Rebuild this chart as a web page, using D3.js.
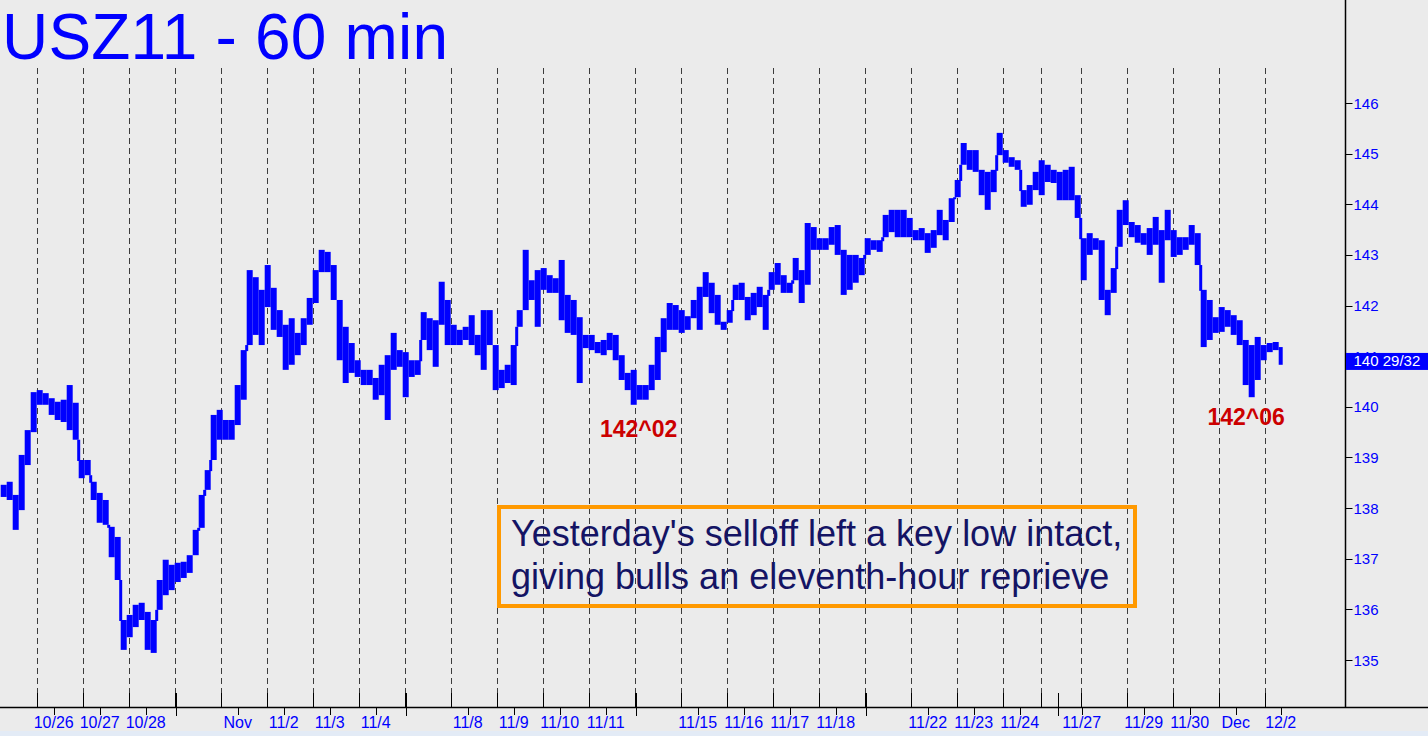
<!DOCTYPE html>
<html><head><meta charset="utf-8">
<script src="https://cdn.jsdelivr.net/npm/d3@7"></script>
<style>html,body{margin:0;padding:0;background:#ebebeb;overflow:hidden}svg{display:block}</style>
</head><body><svg id="c" width="1428" height="736"></svg>
<script>
const title = "USZ11 - 60 min";
// hourly bars grouped in threes: high and low of each group
const highs = [
138.46,138.52,138.26,139.05,139.54,140.29,140.33,140.27,140.17,140.10,
140.14,140.43,140.08,138.95,138.95,138.52,138.30,138.16,137.63,137.43,
135.79,135.89,136.09,136.13,135.95,135.79,136.58,136.98,136.88,136.92,
136.94,137.07,137.57,138.26,138.75,139.84,139.94,139.74,139.74,140.43,
141.12,142.70,142.56,142.31,142.80,142.35,141.91,141.62,141.75,141.46,
141.75,142.15,142.70,143.10,143.06,142.80,142.11,141.58,141.26,140.92,
140.73,140.73,140.57,140.83,141.02,141.46,141.12,141.08,140.92,140.92,
141.87,141.75,141.71,142.47,142.11,141.62,141.52,141.58,141.81,141.42,
141.91,141.91,141.22,140.73,140.83,141.22,141.91,143.10,142.50,142.70,
142.74,142.60,142.54,142.90,142.21,142.11,141.77,141.42,141.42,141.28,
141.32,141.46,141.42,141.02,140.67,140.73,140.43,140.43,140.83,141.38,
141.75,142.05,142.01,141.91,141.79,142.11,142.37,142.66,142.45,142.21,
141.68,141.91,142.41,142.45,142.17,142.25,142.37,142.21,142.66,142.84,
142.60,142.45,142.94,142.70,143.63,143.55,143.33,143.33,143.55,143.59,
143.10,143.00,143.00,142.94,143.33,143.29,143.29,143.79,143.89,143.89,
143.89,143.73,143.49,143.53,143.43,143.49,143.89,143.69,144.12,144.48,
145.21,145.07,145.07,144.68,144.64,144.68,145.41,145.07,144.93,144.87,
144.28,144.38,144.64,144.87,144.78,144.68,144.64,144.68,144.74,144.18,
143.33,143.43,143.33,143.29,142.31,142.74,143.89,144.08,143.65,143.59,
143.43,143.53,143.75,143.49,143.89,143.49,143.35,143.35,143.59,143.43,
142.31,142.11,141.77,141.97,141.91,141.81,141.71,141.32,141.22,141.38,
141.22,141.26,141.28,141.18];
const lows = [
138.22,138.16,137.57,137.96,138.85,139.50,140.04,140.04,139.84,139.74,
139.70,139.54,139.35,138.59,138.65,138.16,137.71,137.67,137.03,136.58,
135.20,135.45,135.65,135.79,135.20,135.14,135.99,136.28,136.38,136.54,
136.62,136.72,137.07,137.61,138.36,138.95,139.35,139.35,139.35,139.64,
140.14,141.22,141.42,141.22,141.97,141.52,141.38,140.73,140.83,141.02,
141.22,141.62,142.05,142.66,142.66,142.11,140.92,140.47,140.67,140.59,
140.43,140.43,140.14,140.23,139.74,140.73,140.79,140.19,140.59,140.63,
141.32,141.12,140.79,141.62,141.22,141.22,141.22,141.32,141.22,141.02,
140.73,141.22,140.33,140.37,140.47,140.43,141.58,141.91,142.11,141.58,
142.31,142.25,142.25,141.71,141.46,141.42,140.47,141.16,141.12,141.06,
141.02,141.12,140.92,140.53,140.33,140.04,140.14,140.14,140.33,140.53,
141.08,141.52,141.52,141.46,141.52,141.75,141.52,142.17,141.85,141.62,
141.52,141.66,142.11,142.11,141.71,141.81,141.97,141.52,142.31,142.41,
142.25,142.25,142.50,142.05,142.41,143.10,143.10,143.10,143.20,143.00,
142.21,142.31,142.45,142.60,143.00,143.10,143.06,143.35,143.45,143.35,
143.35,143.35,143.29,143.29,143.04,143.14,143.39,143.29,143.65,144.14,
144.78,144.68,144.64,144.18,143.89,144.24,144.97,144.82,144.74,144.68,
143.95,143.99,144.28,144.18,144.44,144.42,144.08,144.08,144.08,143.73,
142.50,143.00,143.10,142.11,141.81,142.25,143.16,143.59,143.35,143.24,
143.20,143.00,143.20,142.45,143.29,142.96,143.00,143.10,143.20,142.80,
141.18,141.32,141.46,141.48,141.58,141.42,141.22,140.43,140.19,140.53,
140.92,141.08,141.12,140.83];
const barsPerGroup = 3;
const lastGroupBars = 2;
const sessionStartBars = [18,41,64,87,110,133,156,179,202,225,248,271,294,317,340,363,386,409,432,455,478,501,520,540,563,586,609,632];
const dateLabels = ["10/26","10/27","10/28","Nov","11/2","11/3","11/4","11/8","11/9","11/10","11/11","11/15","11/16","11/17","11/18","11/22","11/23","11/24","11/27","11/29","11/30","Dec","12/2"];
const dateLabelBars = [26.5,49.5,72.5,118.5,141.5,164.5,187.5,233.5,256.5,279.5,302.5,348.5,371.5,394.5,417.5,463.5,486.5,509.5,540.5,571.5,594.5,617.5,640];
const weekBreakBars = [87.5,202.5,317.5,432.5,528.5];
const priceTicks = [135,136,137,138,139,140,141,142,143,144,145,146];
const lastPriceText = "140 29/32";
const lastPrice = 140.906;
const lowLabels = ["142^02","142^06"];
const lowLabelBars = [319,622.7];
const lowLabelPrices = [139.4,139.64];
const noteLines = ["Yesterday's selloff left a key low intact,","giving bulls an eleventh-hour reprieve"];

const svg = d3.select("#c");
const W = 1428, H = 736;
const FONT = "'Liberation Sans', Arial, Helvetica, sans-serif";
const blue = "#0000ff";

svg.append("rect").attr("width",W).attr("height",H).attr("fill","#ebebeb");
svg.append("rect").attr("x",0).attr("y",731).attr("width",W).attr("height",5).attr("fill","#e3ebf6");

const x = d3.scaleLinear().domain([0,672]).range([0.7,1344.7]);
const y = d3.scaleLinear().domain([135,146]).range([660,103]);
const axisX = 1345.5, axisY = 707.5;

// gridlines
svg.append("g").selectAll("line").data(sessionStartBars).join("line")
  .attr("x1",d=>Math.round(x(d))+0.5).attr("x2",d=>Math.round(x(d))+0.5)
  .attr("y1",68).attr("y2",693)
  .attr("stroke","#3c3c3c").attr("stroke-width",1).attr("stroke-dasharray","6,4");

// price bars
const n = highs.length;
const gw = x(barsPerGroup)-x(0);
const bars = svg.append("g").attr("fill",blue);
bars.selectAll("rect.g").data(highs).join("rect").attr("class","g")
  .attr("x",(d,i)=>x(i*barsPerGroup))
  .attr("width",(d,i)=> i===n-1 ? x(lastGroupBars)-x(0) : gw)
  .attr("y",d=>y(d))
  .attr("height",(d,i)=>Math.max(2,y(lows[i])-y(d)));
// connect consecutive groups where their ranges leave a gap
const gaps = d3.range(n-1).map(i=>{
  if (highs[i+1] < lows[i]) return {i, top: lows[i], bot: highs[i+1]};
  if (lows[i+1] > highs[i]) return {i, top: lows[i+1], bot: highs[i]};
  return null;
}).filter(d=>d);
bars.selectAll("rect.c").data(gaps).join("rect").attr("class","c")
  .attr("x",d=>x((d.i+1)*barsPerGroup)-1.5).attr("width",3)
  .attr("y",d=>y(d.top)).attr("height",d=>y(d.bot)-y(d.top)+1);

// title
svg.append("text").attr("x",2).attr("y",59).attr("font-family",FONT)
  .attr("font-size",64).attr("textLength",446).attr("lengthAdjust","spacing")
  .attr("fill",blue).text(title);

// right axis
svg.append("line").attr("x1",axisX).attr("x2",axisX).attr("y1",0).attr("y2",axisY)
  .attr("stroke","#000").attr("stroke-width",1.5);
const ra = svg.append("g");
ra.selectAll("line").data(priceTicks).join("line")
  .attr("x1",axisX).attr("x2",axisX+7)
  .attr("y1",d=>Math.round(y(d))+0.5).attr("y2",d=>Math.round(y(d))+0.5)
  .attr("stroke","#000");
ra.selectAll("text").data(priceTicks).join("text")
  .attr("x",axisX+8).attr("y",d=>y(d)+5.5)
  .attr("font-family",FONT).attr("font-size",15).attr("fill",blue).text(d=>d);

// last price box
svg.append("rect").attr("x",axisX+0.5).attr("y",y(lastPrice)-8).attr("width",W-axisX).attr("height",17)
  .attr("fill",blue);
svg.append("text").attr("x",axisX+8).attr("y",y(lastPrice)+5.5)
  .attr("font-family",FONT).attr("font-size",15).attr("fill","#fff").text(lastPriceText);

// bottom axis
svg.append("line").attr("x1",0).attr("x2",W).attr("y1",axisY).attr("y2",axisY)
  .attr("stroke","#000").attr("stroke-width",1.5);
svg.append("g").selectAll("line").data(sessionStartBars).join("line")
  .attr("x1",d=>Math.round(x(d))+0.5).attr("x2",d=>Math.round(x(d))+0.5)
  .attr("y1",693).attr("y2",axisY).attr("stroke","#000");
svg.append("g").selectAll("line").data(weekBreakBars).join("line")
  .attr("x1",d=>Math.round(x(d))+0.5).attr("x2",d=>Math.round(x(d))+0.5)
  .attr("y1",693).attr("y2",716).attr("stroke","#000");
svg.append("g").selectAll("line").data(dateLabelBars).join("line")
  .attr("x1",d=>Math.round(x(d))+0.5).attr("x2",d=>Math.round(x(d))+0.5)
  .attr("y1",axisY).attr("y2",715).attr("stroke","#000");
svg.append("g").selectAll("text").data(dateLabels).join("text")
  .attr("x",(d,i)=>x(dateLabelBars[i])).attr("y",728)
  .attr("text-anchor","middle").attr("font-family",FONT).attr("font-size",16)
  .attr("fill",blue).text(d=>d);

// low labels
svg.append("g").selectAll("text").data(lowLabels).join("text")
  .attr("x",(d,i)=>x(lowLabelBars[i])).attr("y",(d,i)=>y(lowLabelPrices[i]))
  .attr("text-anchor","middle").attr("font-family",FONT).attr("font-size",23)
  .attr("font-weight","bold").attr("fill","#cc0000").text(d=>d);

// note box
svg.append("rect").attr("x",499).attr("y",507).attr("width",636).attr("height",99)
  .attr("fill","none").attr("stroke","#ff9900").attr("stroke-width",4);
svg.append("g").selectAll("text").data(noteLines).join("text")
  .attr("x",511).attr("y",(d,i)=>546+i*43)
  .attr("font-family",FONT).attr("font-size",36).attr("fill","#141464").text(d=>d);
</script></body></html>
